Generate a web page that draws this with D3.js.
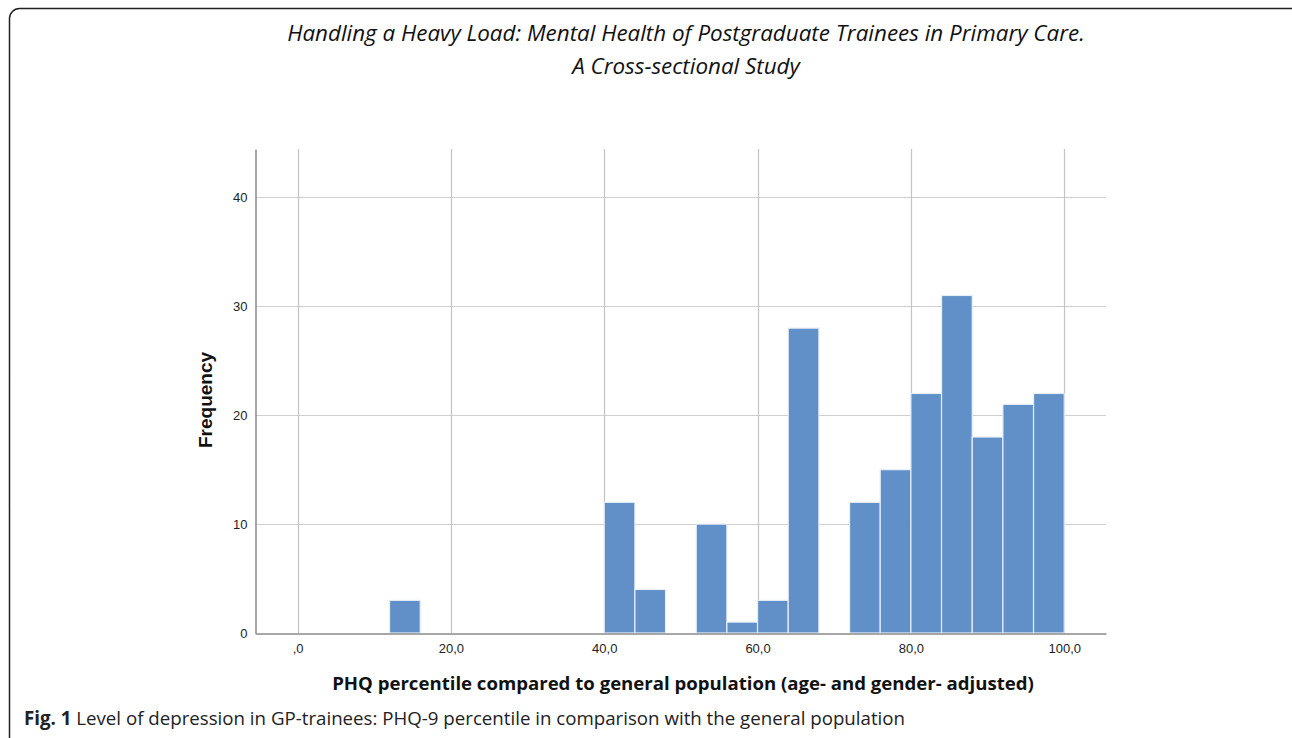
<!DOCTYPE html>
<html>
<head>
<meta charset="utf-8">
<script src="https://cdn.jsdelivr.net/npm/d3@7"></script>
<style>
	html, body { margin: 0; padding: 0; background: #fff; }
	svg { display: block; }
	.tick text { font-family: 'Liberation Sans', Arial, sans-serif; font-size: 13px; fill: #222; }
</style>
</head>
<body>
<div id="canvas"></div>
<script>
// Data
var binStarts = [12, 40, 44, 52, 56, 60, 64, 72, 76, 80, 84, 88, 92, 96],
	binWidth = 4,
	frequencies = [3, 12, 4, 10, 1, 3, 28, 12, 15, 22, 31, 18, 21, 22],
	xTicks = [0, 20, 40, 60, 80, 100],
	yTicks = [0, 10, 20, 30, 40],
	titleLines = [
		'Handling a Heavy Load: Mental Health of Postgraduate Trainees in Primary Care.',
		'A Cross-sectional Study'
	],
	xLabel = 'PHQ percentile compared to general population (age- and gender- adjusted)',
	yLabel = 'Frequency';

var width = 1292,
	height = 738,
	plot = { left: 255, right: 1106, top: 149, bottom: 633 };

var svg = d3.select('#canvas').append('svg')
	.attr('width', width)
	.attr('height', height);

// Frame
svg.append('rect')
	.attr('x', 9.5).attr('y', 8.5)
	.attr('width', 1300).attr('height', 745)
	.attr('rx', 10)
	.attr('fill', 'none')
	.attr('stroke', '#222')
	.attr('stroke-width', 1.5);

// Scales
var x = d3.scaleLinear().domain([-5.55, 105.45]).range([plot.left, plot.right]),
	y = d3.scaleLinear().domain([0, 44.45]).range([plot.bottom, plot.top]);

var comma = function(d) { return d === 0 ? ',0' : d3.format('.1f')(d).replace('.', ','); };

// Grid
var g = svg.append('g');
g.selectAll('.hgrid').data(yTicks.filter(function(d) { return d > 0; }))
	.enter().append('line')
	.attr('x1', plot.left).attr('x2', plot.right)
	.attr('y1', function(d) { return Math.round(y(d)) + 0.5; })
	.attr('y2', function(d) { return Math.round(y(d)) + 0.5; })
	.attr('stroke', '#cfcfcf').attr('stroke-width', 1.2);
g.selectAll('.vgrid').data(xTicks)
	.enter().append('line')
	.attr('y1', plot.top).attr('y2', plot.bottom)
	.attr('x1', function(d) { return Math.round(x(d)) + 0.5; })
	.attr('x2', function(d) { return Math.round(x(d)) + 0.5; })
	.attr('stroke', '#c4c4c4').attr('stroke-width', 1.2);

// Bars
g.selectAll('.bar').data(frequencies)
	.enter().append('rect')
	.attr('x', function(d, i) { return x(binStarts[i]); })
	.attr('width', function(d, i) { return x(binStarts[i] + binWidth) - x(binStarts[i]); })
	.attr('y', function(d) { return y(d); })
	.attr('height', function(d) { return y(0) - y(d); })
	.attr('fill', '#6190c8')
	.attr('stroke', '#e6eef8')
	.attr('stroke-width', 1.2);

// Axes
var xAxis = d3.axisBottom(x).tickValues(xTicks).tickFormat(comma).tickSize(0).tickPadding(10),
	yAxis = d3.axisLeft(y).tickValues(yTicks).tickSize(0).tickPadding(8);

var gx = svg.append('g').attr('transform', 'translate(0,' + (plot.bottom + 0.5) + ')').call(xAxis);
gx.select('.domain').attr('stroke', '#8a8a8a').attr('stroke-width', 1.5);
var gy = svg.append('g').attr('transform', 'translate(' + (plot.left + 0.5) + ',0)').call(yAxis);
gy.select('.domain').attr('stroke', '#8a8a8a').attr('stroke-width', 1.5);

// Title
svg.append('g').selectAll('text').data(titleLines)
	.enter().append('text')
	.attr('x', 686)
	.attr('y', function(d, i) { return 41 + i * 33; })
	.attr('text-anchor', 'middle')
	.style('font-family', "'Open Sans', sans-serif")
	.style('font-style', 'italic')
	.style('font-size', '22.4px')
	.attr('fill', '#111')
	.text(function(d) { return d; });

// Axis labels
svg.append('text')
	.attr('transform', 'translate(212,' + 400 + ') rotate(-90)')
	.attr('text-anchor', 'middle')
	.style('font-family', "'Liberation Sans', Arial, sans-serif")
	.style('font-weight', 'bold')
	.style('font-size', '19px')
	.attr('fill', '#111')
	.text(yLabel);

svg.append('text')
	.attr('x', 683).attr('y', 690)
	.attr('text-anchor', 'middle')
	.style('font-family', "'Open Sans', sans-serif")
	.style('font-weight', 'bold')
	.style('font-size', '18.6px')
	.attr('fill', '#111')
	.text(xLabel);

// Caption
var cap = svg.append('text')
	.attr('x', 24).attr('y', 725)
	.style('font-family', "'Open Sans', sans-serif")
	.style('font-size', '18.7px')
	.attr('fill', '#222');
cap.append('tspan').style('font-weight', 'bold').text('Fig. 1');
cap.append('tspan').text(' Level of depression in GP-trainees: PHQ-9 percentile in comparison with the general population');
</script>
</body>
</html>
